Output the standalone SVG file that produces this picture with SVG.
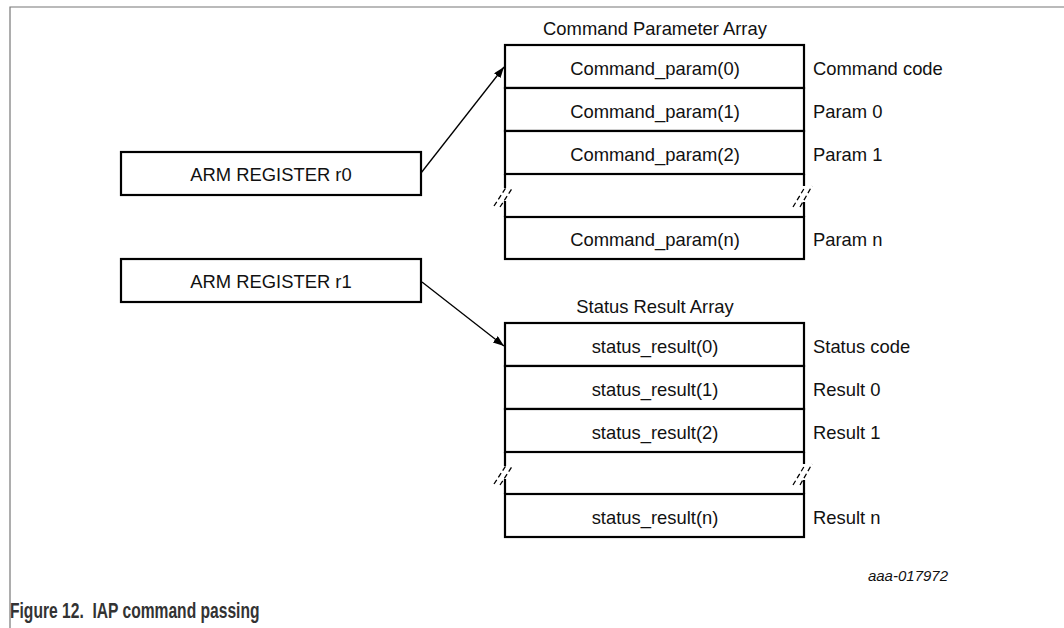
<svg xmlns="http://www.w3.org/2000/svg" width="1064" height="628" viewBox="0 0 1064 628">
<style>
  text { font-family: "Liberation Sans", Arial, sans-serif; fill: #111; }
  .t { font-size: 18.4px; }
  .c { text-anchor: middle; }
  .box { fill: #fff; stroke: #000; stroke-width: 2.2; }
  .div { stroke: #000; stroke-width: 2.2; fill: none; }
  .brk { stroke: #000; stroke-width: 1.3; stroke-dasharray: 5 3; fill: none; }
  .frame { stroke: #777; stroke-width: 1.2; fill: none; }
  .conn { stroke: #000; stroke-width: 1.3; fill: none; }
</style>
<defs>
  <marker id="ah" markerUnits="userSpaceOnUse" markerWidth="12" markerHeight="10" refX="11" refY="4" orient="auto">
    <path d="M0,0 L11,4 L0,8 Z" fill="#000"/>
  </marker>
</defs>
<rect width="1064" height="628" fill="#fff"/>
<path class="frame" d="M10,628 L10,7 L1064,7"/>

<g id="reg-r0">
  <rect class="box" x="121" y="152" width="300" height="43"/>
  <text class="t c" x="271" y="181">ARM REGISTER r0</text>
</g>
<g id="reg-r1">
  <rect class="box" x="121" y="259" width="300" height="43"/>
  <text class="t c" x="271" y="288">ARM REGISTER r1</text>
</g>

<g id="command-array">
  <text class="t c" x="655" y="35">Command Parameter Array</text>
  <g id="cmd-0">
    <rect class="box" x="505" y="45" width="299" height="43"/>
    <text class="t c" x="655" y="75">Command_param(0)</text>
    <text class="t" x="813" y="75">Command code</text>
  </g>
  <g id="cmd-1">
    <rect class="box" x="505" y="88" width="299" height="43"/>
    <text class="t c" x="655" y="118">Command_param(1)</text>
    <text class="t" x="813" y="118">Param 0</text>
  </g>
  <g id="cmd-2">
    <rect class="box" x="505" y="131" width="299" height="43"/>
    <text class="t c" x="655" y="161">Command_param(2)</text>
    <text class="t" x="813" y="161">Param 1</text>
  </g>
  <g id="cmd-gap">
    <path class="div" d="M505,174 L505,188 M505,201 L505,217 M804,174 L804,186 M804,202 L804,217"/>
    <path class="brk" d="M494,206 L507,186 M500,207 L513,187 M793,207 L805,187 M800,207 L812,186"/>
  </g>
  <g id="cmd-n">
    <rect class="box" x="505" y="217" width="299" height="42"/>
    <text class="t c" x="655" y="246">Command_param(n)</text>
    <text class="t" x="813" y="246">Param n</text>
  </g>
</g>

<g id="status-array">
  <text class="t c" x="655" y="313">Status Result Array</text>
  <g id="st-0">
    <rect class="box" x="505" y="323" width="299" height="43"/>
    <text class="t c" x="655" y="353">status_result(0)</text>
    <text class="t" x="813" y="353">Status code</text>
  </g>
  <g id="st-1">
    <rect class="box" x="505" y="366" width="299" height="43"/>
    <text class="t c" x="655" y="396">status_result(1)</text>
    <text class="t" x="813" y="396">Result 0</text>
  </g>
  <g id="st-2">
    <rect class="box" x="505" y="409" width="299" height="43"/>
    <text class="t c" x="655" y="439">status_result(2)</text>
    <text class="t" x="813" y="439">Result 1</text>
  </g>
  <g id="st-gap">
    <path class="div" d="M505,452 L505,466 M505,479 L505,494 M804,452 L804,464 M804,480 L804,494"/>
    <path class="brk" d="M494,484 L507,464 M500,485 L513,465 M793,485 L805,465 M800,485 L812,464"/>
  </g>
  <g id="st-n">
    <rect class="box" x="505" y="494" width="299" height="43"/>
    <text class="t c" x="655" y="524">status_result(n)</text>
    <text class="t" x="813" y="524">Result n</text>
  </g>
</g>

<g id="connectors">
  <line class="conn" x1="421" y1="173" x2="504" y2="67" marker-end="url(#ah)"/>
  <line class="conn" x1="422" y1="282" x2="504" y2="346" marker-end="url(#ah)"/>
</g>

<text x="948" y="581" text-anchor="end" font-size="15" font-style="italic">aaa-017972</text>
<text transform="translate(10,618) scale(0.71,1)" x="0" y="0" font-size="22" font-weight="bold" style="fill:#333" xml:space="preserve">Figure 12.  IAP command passing</text>
</svg>
